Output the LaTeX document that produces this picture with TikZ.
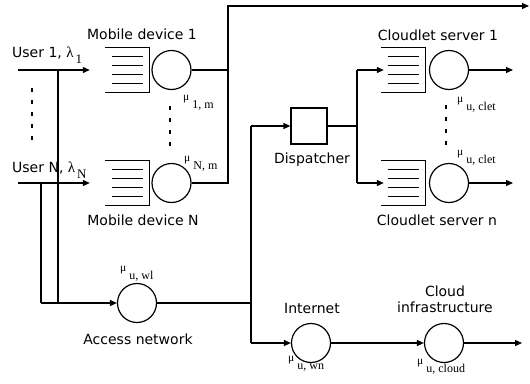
\documentclass[tikz,border=0pt]{standalone}
\usepackage{fontspec}
\setmainfont{DejaVu Sans}
\newfontfamily\tms{Liberation Serif}
\usetikzlibrary{arrows.meta,calc}

% service-rate label: small mu followed by a lowered subscript
\newcommand\rateof[1]{{\tms\raisebox{7.5pt}{\fontsize{11.5}{11.5}\selectfont μ}\hspace{3pt}\fontsize{12}{12}\selectfont #1}}
% queue buffer: box open on the left with waiting slots inside
\newcommand\bufferof[1]{%
  \draw[wire] (#1.north west) -- (#1.north east) -- (#1.south east) -- (#1.south west);
  \foreach \f in {0.2,0.4,0.6,0.8}
    \draw[slot] ($(#1.north west)!\f!(#1.south west)+(7pt,0)$) -- ($(#1.north east)!\f!(#1.south east)+(-6pt,0)$);}

\begin{document}
\begin{tikzpicture}[x=1pt,y=-1pt,
  wire/.style={line width=1.2pt},
  slot/.style={line width=1pt},
  arr/.style={wire,-{Triangle[length=7pt,width=6pt]}},
  srv/.style={circle,draw,wire,minimum size=39pt,inner sep=0pt},
  buf/.style={minimum width=44pt,minimum height=44pt,inner sep=0pt},
  disp/.style={draw,wire,minimum size=36pt,inner sep=0pt},
  txt/.style={font=\fontsize{14}{16}\selectfont,inner sep=0pt},
  rate/.style={anchor=base west,inner sep=0pt},
  dots/.style={wire,dash pattern=on 4pt off 8pt}]
\useasboundingbox (0,0) rectangle (530,383);

% mobile devices
\node[buf] (q1) at (127,70) {};
\node[srv] (s1) at (171.5,70) {};
\node[buf] (qN) at (127,183) {};
\node[srv] (sN) at (171.5,183) {};
\bufferof{q1}
\bufferof{qN}

% cloudlet servers
\node[buf] (cq1) at (403,70) {};
\node[srv] (cs1) at (449,70) {};
\node[buf] (cqN) at (403,183) {};
\node[srv] (csN) at (449,183) {};
\bufferof{cq1}
\bufferof{cqN}

% access network, dispatcher, internet, cloud
\node[srv] (a) at (137,303) {};
\node[disp] (d) at (309,126) {};
\node[srv] (i) at (311,343) {};
\node[srv] (c) at (444,343) {};

% junction points
\coordinate (u1) at (18,70);
\coordinate (uN) at (18,183);
\coordinate (va1) at (58,70);
\coordinate (vb1) at (58,303);
\coordinate (vaN) at (41,183);
\coordinate (vbN) at (41,303);
\coordinate (j1) at (228,70);
\coordinate (jN) at (228,183);
\coordinate (jtop) at (228,6);
\coordinate (out) at (529,6);
\coordinate (k) at (251,303);
\coordinate (kt) at (251,126);
\coordinate (kb) at (251,343);
\coordinate (m) at (357,126);
\coordinate (mt) at (357,70);
\coordinate (mb) at (357,183);
\coordinate (o1) at (513,70);
\coordinate (oN) at (513,183);
\coordinate (oc) at (522,343);

% users into mobile devices
\draw[arr] (u1) -- ([xshift=-15pt]q1.west);
\draw[arr] (uN) -- ([xshift=-15pt]qN.west);
% users into access network
\draw[wire] (va1) -- (vb1);
\draw[wire] (vaN) -- (vbN);
\draw[arr] (vbN) -- (a.west);
% mobile devices offload to the top
\draw[wire] (sN.east) -- (jN) -- (j1);
\draw[arr] (s1.east) -- (j1) -- (jtop) -- (out);
% access network fan-out
\draw[wire] (a.east) -- (k);
\draw[wire] (kt) -- (kb);
\draw[arr] (kt) -- (d.west);
\draw[arr] (kb) -- (i.west);
% dispatcher to cloudlet servers
\draw[wire] (d.east) -- (m);
\draw[wire] (mt) -- (mb);
\draw[arr] (mt) -- ([xshift=3pt]cq1.west);
\draw[arr] (mb) -- ([xshift=3pt]cqN.west);
\draw[arr] (cs1.east) -- (o1);
\draw[arr] (csN.east) -- (oN);
% internet to cloud
\draw[arr] (i.east) -- (c.west);
\draw[arr] (c.east) -- (oc);

% ellipsis markers
\draw[dots] (32,88) -- (32,143);
\draw[dots] (170,106) -- (170,148);
\draw[dots] (446,105) -- (446,150);

% texts
\node[txt,anchor=base west] (t1) at (12,57) {User 1, {\tms\fontsize{15}{15}\selectfont λ}\hspace{2pt}\raisebox{-6pt}{\tms\fontsize{13}{13}\selectfont 1}};
\node[txt,anchor=base west] (tN) at (12,172) {User N, {\tms\fontsize{15}{15}\selectfont λ}\hspace{2pt}\raisebox{-6pt}{\tms\fontsize{13}{13}\selectfont N}};
\node[txt] (tm1) at (142,34) {Mobile device 1};
\node[txt] (tmN) at (143,220) {Mobile device N};
\node[txt] (tac) at (138,339) {Access network};
\node[txt] (tdp) at (312,160) {Dispatcher};
\node[txt] (tc1) at (438,35) {Cloudlet server 1};
\node[txt] (tcn) at (437,220) {Cloudlet server n};
\node[txt] (tin) at (312,308) {Internet};
\node[txt,align=center] (tcl) at (445,299) {Cloud\\infrastructure};

% service rates
\node[rate] (r1) at (183,108) {\rateof{1, m}};
\node[rate] (rN) at (184,169) {\rateof{N, m}};
\node[rate] (rc1) at (457,110) {\rateof{u, clet}};
\node[rate] (rcn) at (457,163) {\rateof{u, clet}};
\node[rate] (rwl) at (120,279) {\rateof{u, wl}};
\node[rate] (rwn) at (288,369) {\rateof{u, wn}};
\node[rate] (rcl) at (417,372) {\rateof{u, cloud}};
\end{tikzpicture}
\end{document}
